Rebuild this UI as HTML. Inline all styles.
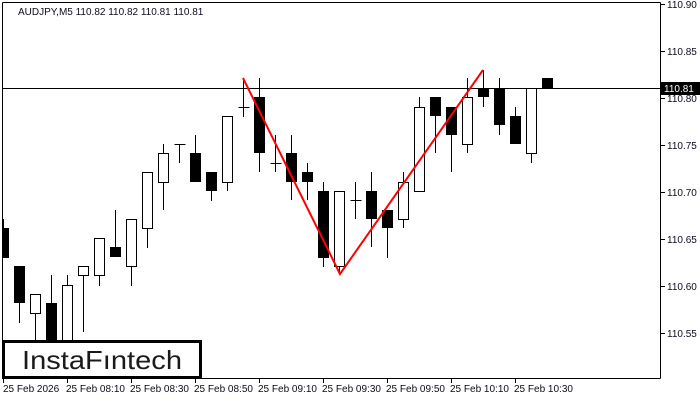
<!DOCTYPE html>
<html><head><meta charset="utf-8"><style>
html,body{margin:0;padding:0;background:#fff;width:700px;height:400px;overflow:hidden}
svg{display:block}
text{font-family:"Liberation Sans",sans-serif;font-size:10px;fill:#0b0b1e}
</style></head><body>
<svg width="700" height="400" viewBox="0 0 700 400" shape-rendering="crispEdges">
<rect width="700" height="400" fill="#fff"/>
<g stroke="#000" stroke-width="1">
<line x1="2.5" y1="2.5" x2="660.5" y2="2.5"/>
<line x1="2.5" y1="2.5" x2="2.5" y2="378.5"/>
<line x1="660.5" y1="2.5" x2="660.5" y2="378.5"/>
<line x1="2.5" y1="378.5" x2="660.5" y2="378.5"/>
<line x1="2" y1="88.5" x2="660" y2="88.5"/>
</g>
<g stroke="#000">
<line x1="660" y1="4.5" x2="665" y2="4.5"/><line x1="660" y1="51.5" x2="665" y2="51.5"/>
<line x1="660" y1="98.5" x2="665" y2="98.5"/><line x1="660" y1="145.5" x2="665" y2="145.5"/>
<line x1="660" y1="192.5" x2="665" y2="192.5"/><line x1="660" y1="239.5" x2="665" y2="239.5"/>
<line x1="660" y1="286.5" x2="665" y2="286.5"/><line x1="660" y1="333.5" x2="665" y2="333.5"/>
<line x1="3.5" y1="378" x2="3.5" y2="383"/><line x1="67.5" y1="378" x2="67.5" y2="383"/>
<line x1="131.5" y1="378" x2="131.5" y2="383"/><line x1="195.5" y1="378" x2="195.5" y2="383"/>
<line x1="259.5" y1="378" x2="259.5" y2="383"/><line x1="323.5" y1="378" x2="323.5" y2="383"/>
<line x1="387.5" y1="378" x2="387.5" y2="383"/><line x1="451.5" y1="378" x2="451.5" y2="383"/>
<line x1="515.5" y1="378" x2="515.5" y2="383"/>
</g>
<g id="c"></g>
<polyline points="243,78 340,274 483,70" fill="none" stroke="#f00" stroke-width="2" shape-rendering="auto"/>
<rect x="3.5" y="341.5" width="197" height="36" fill="#fff" stroke="#000" stroke-width="3"/>
<text x="22" y="369" textLength="160" lengthAdjust="spacingAndGlyphs" style="font-size:26px;fill:#1a1a1a">InstaFıntech</text>
<rect x="661" y="82" width="39" height="13" fill="#000"/>
<text x="664" y="92" style="fill:#fff">110.81</text>
<text x="667" y="8">110.90</text><text x="667" y="55">110.85</text><text x="667" y="102">110.80</text>
<text x="667" y="149">110.75</text><text x="667" y="196">110.70</text><text x="667" y="243">110.65</text>
<text x="667" y="290">110.60</text><text x="667" y="337">110.55</text>
<text x="18" y="15">AUDJPY,M5  110.82 110.82 110.81 110.81</text>
<text x="3" y="392">25 Feb 2026</text><text x="66" y="392">25 Feb 08:10</text>
<text x="130" y="392">25 Feb 08:30</text><text x="194" y="392">25 Feb 08:50</text>
<text x="258" y="392">25 Feb 09:10</text><text x="322" y="392">25 Feb 09:30</text>
<text x="386" y="392">25 Feb 09:50</text><text x="450" y="392">25 Feb 10:10</text>
<text x="514" y="392">25 Feb 10:30</text>
</svg>
<script>
var d=[["B",228,258,219,258],["B",266,303,266,323],["W",294,313,294,340],["B",303,340,275,340],["W",285,340,275,340],["W",266,275,266,332],["W",238,275,238,286],["B",247,257,210,257],["W",219,266,219,286],["W",172,228,172,248],["W",153,182,144,210],["D",144,144,144,163],["B",153,182,135,182],["B",172,191,172,201],["W",116,182,116,191],["D",107,107,78,117],["B",97,153,78,172],["D",163,163,135,172],["B",153,182,135,200],["B",172,182,163,200],["B",191,258,182,267],["W",191,266,191,274],["D",200,200,182,219],["B",191,219,172,247],["B",210,228,210,258],["W",182,219,172,228],["W",107,191,97,191],["B",97,116,97,153],["B",107,135,107,172],["W",97,144,78,153],["B",88,97,70,107],["B",88,125,78,135],["B",116,144,107,144],["W",88,153,88,163],["B",78,88,78,88]];
var s="";
d.forEach(function(c,k){var x=3.5+16*k;
s+='<line x1="'+x+'" y1="'+c[3]+'" x2="'+x+'" y2="'+c[4]+'" stroke="#000"/>';
if(c[0]=="B"){var l=Math.max(x-5.5,3);s+='<rect x="'+l+'" y="'+c[1]+'" width="'+(x+5.5-l)+'" height="'+(c[2]-c[1])+'" fill="#000"/>';}
else if(c[0]=="W"){s+='<rect x="'+(x-5)+'" y="'+(c[1]+0.5)+'" width="10" height="'+(c[2]-c[1])+'" fill="#fff" stroke="#000"/>';}
else{s+='<line x1="'+(x-5)+'" y1="'+(c[1]+0.5)+'" x2="'+(x+6)+'" y2="'+(c[1]+0.5)+'" stroke="#000"/>';}
});
document.getElementById("c").innerHTML=s;
</script>
</body></html>
